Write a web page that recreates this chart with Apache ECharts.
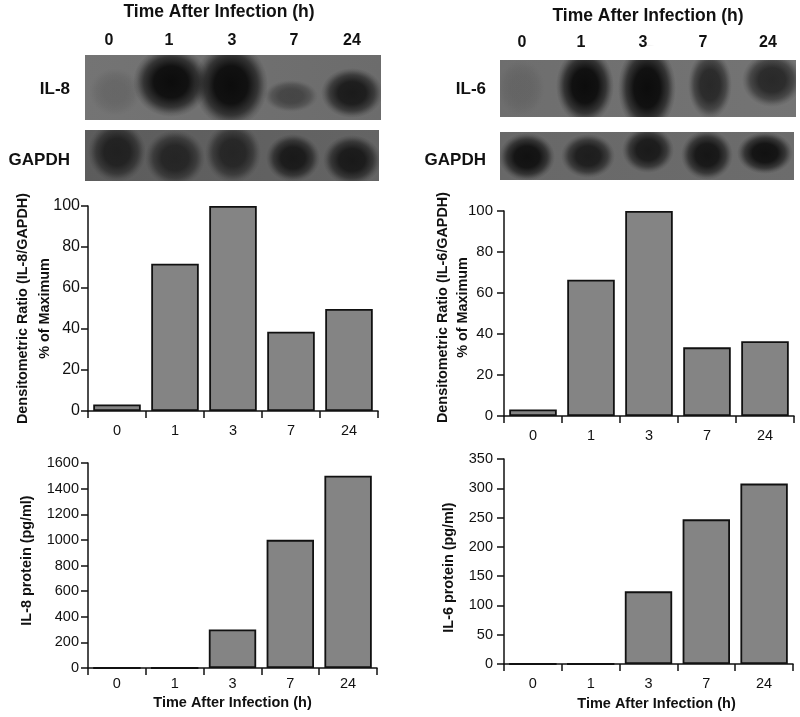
<!DOCTYPE html>
<html>
<head>
<meta charset="utf-8">
<style>html,body{margin:0;padding:0;background:#fff}#c{width:800px;height:717px}</style>
<script src="https://cdn.jsdelivr.net/npm/echarts@6/dist/echarts.min.js"></script>
</head>
<body>
<div id="c"></div>
<script>
const timeLabels = ['0', '1', '3', '7', '24'];
const il8Ratio = [3.2, 71.8, 100, 38.7, 49.8];
const il6Ratio = [3.2, 66.5, 100, 33.5, 36.5];
const il8Protein = [0, 0, 300, 1000, 1500];
const il6Protein = [0, 0, 124, 247, 308];

const FONT = '"Liberation Sans", Arial, sans-serif';
const INK = '#111111';
const chart = echarts.init(document.getElementById('c'), null, {renderer: 'canvas'});

const panels = [
  {grid: {left: 88, top: 206, width: 290, height: 205}, values: il8Ratio, max: 100, step: 20,
   yName: 'Densitometric Ratio (IL-8/GAPDH)\n% of Maximum', yGap: 32, yLine: 22, yPad: [0, 0, 0, 0],
   yFont: 16, yMargin: 8, xMargin: 12, xName: ''},
  {grid: {left: 504, top: 211, width: 290, height: 205}, values: il6Ratio, max: 100, step: 20,
   yName: 'Densitometric Ratio (IL-6/GAPDH)\n% of Maximum', yGap: 31, yLine: 20, yPad: [0, 0, 0, 12],
   yFont: 15, yMargin: 11, xMargin: 12, xName: ''},
  {grid: {left: 88, top: 463, width: 289, height: 205}, values: il8Protein, max: 1600, step: 200,
   yName: 'IL-8 protein (pg/ml)', yGap: 51, yLine: 20, yPad: [0, 0, 0, 10],
   yFont: 14.5, yMargin: 9, xMargin: 8, xName: 'Time After Infection (h)', xPad: 0, xGap: 27},
  {grid: {left: 504, top: 459, width: 289, height: 205}, values: il6Protein, max: 350, step: 50,
   yName: 'IL-6 protein (pg/ml)', yGap: 45, yLine: 20, yPad: [0, 12, 0, 0],
   yFont: 14.5, yMargin: 11, xMargin: 12, xName: 'Time After Infection (h)', xPad: 16, xGap: 32}
];

// Autoradiograph strips: band = centre x, centre y, radius x, radius y, darkness
const blots = [
  {rect: [85, 55, 296, 65], clear: [14, 10], base: ['#747474', '#6c6c6c'], bands: [
    [115, 92, 26, 24, 0.12], [171, 82, 38, 35, 1], [231, 85, 37, 42, 1],
    [291, 96, 27, 16, 0.42], [352, 93, 31, 25, 0.85]]},
  {rect: [85, 130, 294, 51], clear: [10, 6], base: ['#5c5c5c', '#646464'], bands: [
    [117, 152, 29, 30, 0.75], [175, 158, 30, 28, 0.7], [233, 153, 28, 30, 0.7],
    [293, 158, 27, 24, 0.85], [352, 160, 29, 25, 0.85]]},
  {rect: [500, 60, 296, 57], clear: [14, 15], base: ['#6e6e6e', '#747474'], bands: [
    [521, 88, 24, 28, 0.1], [585, 86, 29, 38, 1], [647, 88, 29, 44, 1],
    [710, 85, 22, 34, 0.72], [772, 80, 30, 27, 0.72]]},
  {rect: [500, 132, 294, 48], clear: [15, 6], base: ['#686868', '#6c6c6c'], bands: [
    [527, 157, 28, 24, 0.95], [588, 156, 27, 22, 0.82], [648, 150, 26, 23, 0.85],
    [707, 155, 26, 25, 0.9], [765, 153, 28, 21, 0.95]]}
];

const blotGraphics = [];
const maskGraphics = [];
const SIDE = 6;
blots.forEach(b => {
  const [x, y, w, h] = b.rect;
  const [above, below] = b.clear;
  blotGraphics.push({
    type: 'rect', shape: {x, y, width: w, height: h}, z: 1,
    style: {fill: new echarts.graphic.LinearGradient(0, 0, 1, 0, [
      {offset: 0, color: b.base[0]}, {offset: 1, color: b.base[1]}])}
  });
  b.bands.forEach(([cx, cy, rx, ry, a]) => {
    blotGraphics.push({
      type: 'circle', x: cx, y: cy, scaleY: ry / rx, z: 2,
      shape: {cx: 0, cy: 0, r: rx},
      style: {fill: new echarts.graphic.RadialGradient(0.5, 0.5, 0.5, [
        {offset: 0, color: `rgba(12,12,12,${a})`},
        {offset: 0.45, color: `rgba(12,12,12,${a * 0.95})`},
        {offset: 0.72, color: `rgba(12,12,12,${a * 0.6})`},
        {offset: 0.9, color: `rgba(12,12,12,${a * 0.15})`},
        {offset: 1, color: 'rgba(12,12,12,0)'}])}
    });
  });
  [[x - SIDE, y - above, w + 2 * SIDE, above], [x - SIDE, y + h, w + 2 * SIDE, below],
   [x - SIDE, y, SIDE, h], [x + w, y, SIDE, h]].forEach(([mx, my, mw, mh]) => {
    maskGraphics.push({type: 'rect', shape: {x: mx, y: my, width: mw, height: mh}, z: 3, style: {fill: '#ffffff'}});
  });
});

// Text around the strips
const boldText = (text, x, y, size, align) => ({
  type: 'text', x, y, z: 5,
  style: {text, fill: INK, font: `bold ${size}px ${FONT}`, align: align || 'center', verticalAlign: 'middle'}
});
const laneXLeft = [109, 169, 232, 294, 352];
const laneXRight = [522, 581, 643, 703, 768];
const textGraphics = [
  boldText('Time After Infection (h)', 219, 12, 17.5),
  boldText('Time After Infection (h)', 648, 16, 17.5),
  boldText('IL-8', 70, 89, 17, 'right'),
  boldText('GAPDH', 70, 160, 17, 'right'),
  boldText('IL-6', 486, 89, 17, 'right'),
  boldText('GAPDH', 486, 160, 17, 'right')
];
timeLabels.forEach((t, i) => {
  textGraphics.push(boldText(t, laneXLeft[i], 41, 16));
  textGraphics.push(boldText(t, laneXRight[i], 43, 16));
});

const axisLine = {show: true, onZero: false, lineStyle: {color: INK, width: 1.5}};
const axisTick = {show: true, length: 7, lineStyle: {color: INK, width: 1.5}};

chart.setOption({
  animation: false,
  backgroundColor: '#ffffff',
  textStyle: {fontFamily: FONT},
  grid: panels.map(p => Object.assign({containLabel: false}, p.grid)),
  xAxis: panels.map((p, i) => ({
    type: 'category', gridIndex: i, data: timeLabels, boundaryGap: true,
    axisLine, axisTick: Object.assign({alignWithLabel: false}, axisTick),
    axisLabel: {color: INK, fontSize: 14.5, margin: p.xMargin, fontFamily: FONT, interval: 0},
    splitLine: {show: false},
    name: p.xName, nameLocation: 'middle', nameGap: p.xGap || 30, nameMoveOverlap: false,
    nameTextStyle: {color: INK, fontSize: 14.5, fontWeight: 'bold', fontFamily: FONT,
      padding: [0, 0, 0, p.xPad || 0]}
  })),
  yAxis: panels.map((p, i) => ({
    type: 'value', gridIndex: i, min: 0, max: p.max, interval: p.step,
    axisLine, axisTick,
    axisLabel: {color: INK, fontSize: p.yFont, margin: p.yMargin, fontFamily: FONT, formatter: v => String(v)},
    splitLine: {show: false},
    name: p.yName, nameLocation: 'middle', nameRotate: 90, nameGap: p.yGap, nameMoveOverlap: false,
    nameTextStyle: {color: INK, fontSize: 14.4, fontWeight: 'bold', fontFamily: FONT,
      lineHeight: p.yLine, padding: p.yPad}
  })),
  series: panels.map((p, i) => ({
    type: 'bar', xAxisIndex: i, yAxisIndex: i, data: p.values,
    barWidth: '82%',
    itemStyle: {color: '#848484', borderColor: INK, borderWidth: 1.8},
    emphasis: {disabled: true}
  })),
  graphic: blotGraphics.concat(maskGraphics, textGraphics)
});
</script>
</body>
</html>
